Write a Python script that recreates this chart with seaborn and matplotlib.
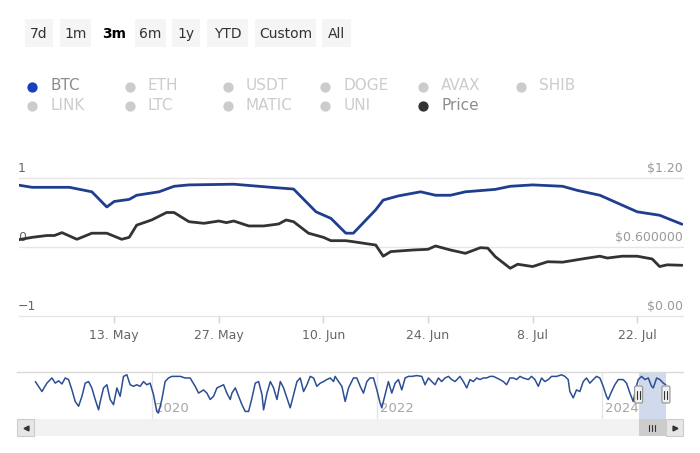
import numpy as np
import pandas as pd
import matplotlib
matplotlib.use("Agg")
import matplotlib.pyplot as plt
import matplotlib.dates as mdates
from matplotlib.patches import Rectangle, FancyBboxPatch
import seaborn as sns

# ---------------- data ----------------
RANGE_BUTTONS = ["7d", "1m", "3m", "6m", "1y", "YTD", "Custom", "All"]
SELECTED_BUTTON = "3m"
LEGEND_ITEMS = ["BTC", "ETH", "USDT", "DOGE", "AVAX", "SHIB",
                "LINK", "LTC", "MATIC", "UNI", "Price"]
ACTIVE_ITEMS = {"BTC": "#1a3fbd", "Price": "#333333"}

BTC_DATES = ["2024-04-30", "2024-05-02", "2024-05-07", "2024-05-10", "2024-05-12",
             "2024-05-13", "2024-05-15", "2024-05-16", "2024-05-19", "2024-05-21",
             "2024-05-23", "2024-05-29", "2024-06-03", "2024-06-06", "2024-06-09",
             "2024-06-11", "2024-06-13", "2024-06-14", "2024-06-17", "2024-06-18",
             "2024-06-20", "2024-06-23", "2024-06-25", "2024-06-27", "2024-06-29",
             "2024-07-03", "2024-07-05", "2024-07-08", "2024-07-12", "2024-07-14",
             "2024-07-17", "2024-07-22", "2024-07-25", "2024-07-28"]
BTC_CORR = [0.90, 0.865, 0.865, 0.80, 0.58,
            0.66, 0.69, 0.75, 0.80, 0.88,
            0.90, 0.91, 0.865, 0.84, 0.51,
            0.415, 0.20, 0.20, 0.54, 0.68,
            0.74, 0.80, 0.75, 0.75, 0.80,
            0.835, 0.88, 0.90, 0.88, 0.82,
            0.75, 0.51, 0.46, 0.33]

PRICE_DATES = ["2024-04-30", "2024-05-02", "2024-05-04", "2024-05-05", "2024-05-06",
               "2024-05-08", "2024-05-10", "2024-05-12", "2024-05-14", "2024-05-15",
               "2024-05-16", "2024-05-18", "2024-05-20", "2024-05-21", "2024-05-23",
               "2024-05-25", "2024-05-27", "2024-05-28", "2024-05-29", "2024-05-31",
               "2024-06-02", "2024-06-04", "2024-06-05", "2024-06-06", "2024-06-08",
               "2024-06-10", "2024-06-11", "2024-06-13", "2024-06-14", "2024-06-17",
               "2024-06-18", "2024-06-19", "2024-06-22", "2024-06-24", "2024-06-25",
               "2024-06-27", "2024-06-29", "2024-07-01", "2024-07-02", "2024-07-03",
               "2024-07-05", "2024-07-06", "2024-07-08", "2024-07-10", "2024-07-12",
               "2024-07-15", "2024-07-17", "2024-07-18", "2024-07-20", "2024-07-22",
               "2024-07-24", "2024-07-25", "2024-07-26", "2024-07-28"]
PRICE_USD = [0.661, 0.684, 0.700, 0.700, 0.725,
             0.667, 0.720, 0.720, 0.667, 0.684,
             0.790, 0.835, 0.900, 0.900, 0.820,
             0.806, 0.826, 0.812, 0.826, 0.783,
             0.783, 0.800, 0.835, 0.820, 0.720,
             0.684, 0.655, 0.655, 0.646, 0.617,
             0.520, 0.560, 0.574, 0.580, 0.609,
             0.574, 0.545, 0.594, 0.590, 0.516,
             0.415, 0.450, 0.430, 0.472, 0.468,
             0.500, 0.520, 0.504, 0.520, 0.520,
             0.496, 0.430, 0.445, 0.441]

X_TICKS = ["2024-05-13", "2024-05-27", "2024-06-10", "2024-06-24", "2024-07-08", "2024-07-22"]
X_TICK_LABELS = ["13. May", "27. May", "10. Jun", "24. Jun", "8. Jul", "22. Jul"]
LEFT_TICKS = [-1, 0, 1]
LEFT_TICK_LABELS = ["\u22121", "0", "1"]
RIGHT_TICKS = [0.0, 0.6, 1.2]
RIGHT_TICK_LABELS = ["$0.00", "$0.600000", "$1.20"]
VIEW_START = "2024-04-30 06:00"
VIEW_END = "2024-07-28 03:00"

# navigator (full history, decimal years)
NAV_YEARS = [
    2018.963, 2019.022, 2019.066, 2019.111, 2019.141, 2019.170, 2019.200, 2019.229, 2019.259, 2019.289,
    2019.318, 2019.348, 2019.378, 2019.407, 2019.437, 2019.466, 2019.496, 2019.526, 2019.541, 2019.570,
    2019.600, 2019.629, 2019.659, 2019.689, 2019.718, 2019.748, 2019.778, 2019.807, 2019.837, 2019.866,
    2019.896, 2019.926, 2019.955, 2019.985, 2020.015, 2020.044, 2020.059, 2020.089, 2020.118, 2020.148,
    2020.178, 2020.207, 2020.237,
    2020.252, 2020.296, 2020.340, 2020.385, 2020.415, 2020.459, 2020.489, 2020.518, 2020.548, 2020.578,
    2020.607, 2020.637, 2020.666, 2020.696, 2020.711, 2020.741, 2020.770, 2020.800, 2020.829, 2020.859,
    2020.889, 2020.918, 2020.948, 2020.978, 2020.992, 2021.022, 2021.052, 2021.081, 2021.111, 2021.141,
    2021.170, 2021.200, 2021.229, 2021.259, 2021.289, 2021.318, 2021.348, 2021.378, 2021.407, 2021.437,
    2021.466, 2021.496, 2021.526, 2021.555, 2021.585, 2021.615, 2021.629, 2021.659, 2021.689, 2021.718,
    2021.748, 2021.792, 2021.822, 2021.852, 2021.881, 2021.911, 2021.940, 2021.970, 2022.000, 2022.029,
    2022.044, 2022.074, 2022.103, 2022.133, 2022.163, 2022.192, 2022.222, 2022.252, 2022.281, 2022.311,
    2022.355, 2022.400, 2022.429, 2022.459, 2022.489, 2022.518, 2022.548, 2022.577, 2022.607, 2022.637,
    2022.666, 2022.696, 2022.740, 2022.770, 2022.800, 2022.829, 2022.859, 2022.889, 2022.918, 2022.948,
    2022.977, 2023.007, 2023.037, 2023.066, 2023.096, 2023.126, 2023.155,
    2023.185, 2023.215, 2023.244, 2023.274, 2023.303, 2023.348, 2023.377, 2023.407, 2023.437, 2023.466,
    2023.496, 2023.526, 2023.555, 2023.600, 2023.644, 2023.674, 2023.703, 2023.718, 2023.748, 2023.777,
    2023.807, 2023.837, 2023.866, 2023.896, 2023.926, 2023.955, 2023.985, 2024.015, 2024.044, 2024.059,
    2024.089, 2024.118, 2024.148, 2024.192, 2024.222, 2024.252, 2024.281, 2024.305, 2024.326, 2024.355,
    2024.385, 2024.415, 2024.444, 2024.459, 2024.489, 2024.518, 2024.548, 2024.570]
NAV_BTC_CORR = [
    0.83, 0.58, 0.79, 0.92, 0.79, 0.85, 0.77, 0.92, 0.88, 0.62,
    0.33, 0.21, 0.46, 0.79, 0.83, 0.67, 0.38, 0.12, 0.33, 0.67,
    0.75, 0.38, 0.25, 0.67, 0.46, 0.96, 1.00, 0.75, 0.71, 0.75,
    0.71, 0.83, 0.75, 0.79, 0.50, 0.08, 0.04, 0.38, 0.83, 0.92,
    0.96, 0.96, 0.96,
    0.96, 0.92, 0.92, 0.71, 0.54, 0.62, 0.54, 0.38, 0.46, 0.67,
    0.71, 0.75, 0.54, 0.38, 0.54, 0.67, 0.46, 0.25, 0.08, 0.08,
    0.42, 0.79, 0.83, 0.50, 0.12, 0.54, 0.83, 0.67, 0.38, 0.83,
    0.67, 0.42, 0.17, 0.50, 0.83, 0.92, 0.58, 0.75, 0.96, 0.92,
    0.71, 0.79, 0.83, 0.88, 0.92, 0.83, 0.96, 0.83, 0.71, 0.33,
    0.67, 0.92, 0.92, 0.71, 0.54, 0.83, 0.92, 0.92, 0.62, 0.29,
    0.17, 0.50, 0.83, 0.54, 0.79, 0.88, 0.62, 0.92, 0.96, 0.96,
    0.98, 0.96, 0.75, 0.92, 0.83, 0.75, 0.92, 0.83, 0.92, 0.96,
    0.88, 0.83, 0.96, 0.83, 0.67, 0.88, 0.83, 0.92, 0.88, 0.92,
    0.92, 0.96, 0.96, 0.92, 0.88, 0.83, 0.75,
    0.92, 0.92, 0.88, 0.96, 0.92, 0.88, 0.96, 0.88, 0.71, 0.92,
    0.83, 0.88, 0.96, 0.96, 1.00, 0.96, 0.88, 0.58, 0.42, 0.62,
    0.58, 0.83, 0.92, 0.79, 0.88, 0.96, 0.92, 0.71, 0.46, 0.38,
    0.58, 0.75, 0.88, 0.88, 0.79, 0.54, 0.33, 0.67, 0.88, 0.96,
    0.88, 0.92, 0.71, 0.67, 0.92, 0.88, 0.79, 0.75]
NAV_YEAR_TICKS = [2020, 2022, 2024]
NAV_START = 2018.80
NAV_END = 2024.723

# ---------------- style ----------------
sns.set_theme(style="white")
plt.rcParams["font.family"] = ["DejaVu Sans"]

BTC_LINE = "#1f3f8e"
PRICE_LINE = "#333333"
NAV_LINE = "#2c4f94"
GRID = "#e6e6e6"

W, H = 700, 453
fig = plt.figure(figsize=(W / 100, H / 100), dpi=100)
fig.patch.set_facecolor("white")


def fbox(x0, y0, x1, y1):
    return [x0 / W, 1 - y1 / H, (x1 - x0) / W, (y1 - y0) / H]


def dec_year_to_ts(y):
    yi = int(np.floor(y))
    s = pd.Timestamp(f"{yi}-01-01")
    e = pd.Timestamp(f"{yi + 1}-01-01")
    return s + (e - s) * (y - yi)


# ---------------- main chart ----------------
ax = fig.add_axes(fbox(19, 178, 683, 316))
ax.set_facecolor("none")
for v in LEFT_TICKS:
    ax.axhline(v, color=GRID, lw=1, zorder=0, clip_on=False)
sns.lineplot(x=pd.to_datetime(BTC_DATES), y=BTC_CORR, ax=ax, color=BTC_LINE,
             linewidth=2, zorder=3)
ax.set_ylim(-1, 1)
ax.set_xlim(pd.Timestamp(VIEW_START), pd.Timestamp(VIEW_END))
ax.set_xticks(pd.to_datetime(X_TICKS))
ax.set_xticklabels(X_TICK_LABELS)
ax.tick_params(axis="x", length=5, width=1, color="#ccd6eb", pad=4,
               labelsize=9, labelcolor="#666666", bottom=True)
ax.tick_params(axis="y", left=False, labelleft=False)
ax.set_yticks([])
for s in ax.spines.values():
    s.set_visible(False)
ax.set_xlabel("")
ax.set_ylabel("")
for v, lab in zip(LEFT_TICKS, LEFT_TICK_LABELS):
    ax.annotate(lab, xy=(0, v), xycoords=("axes fraction", "data"), xytext=(-0.7, 2.3),
                textcoords="offset points", ha="left", va="bottom", color="#666666",
                fontsize=9, annotation_clip=False)

ax2 = ax.twinx()
sns.lineplot(x=pd.to_datetime(PRICE_DATES), y=PRICE_USD, ax=ax2, color=PRICE_LINE,
             linewidth=2, zorder=3)
ax2.set_ylim(0, 1.2)
ax2.set_xlim(pd.Timestamp(VIEW_START), pd.Timestamp(VIEW_END))
ax2.set_yticks([])
ax2.set_ylabel("")
for s in ax2.spines.values():
    s.set_visible(False)
for v, lab in zip(RIGHT_TICKS, RIGHT_TICK_LABELS):
    ax2.annotate(lab, xy=(1, v), xycoords=("axes fraction", "data"), xytext=(0, 2.3),
                 textcoords="offset points", ha="right", va="bottom", color="#999999",
                 fontsize=9, annotation_clip=False)

# ---------------- navigator ----------------
nav = fig.add_axes(fbox(17, 372, 683, 419))
nav.set_facecolor("none")
nav_x = [dec_year_to_ts(y) for y in NAV_YEARS]
sns.lineplot(x=nav_x, y=NAV_BTC_CORR, ax=nav, color=NAV_LINE, linewidth=1.1, zorder=3)
nav.set_xlim(dec_year_to_ts(NAV_START), dec_year_to_ts(NAV_END))
nav.set_ylim(-0.11, 1.07)
nav.set_xticks([])
nav.set_yticks([])
nav.set_xlabel("")
nav.set_ylabel("")
for k, s in nav.spines.items():
    s.set_visible(k == "top")
nav.spines["top"].set_color("#d9d9d9")
nav.spines["top"].set_linewidth(1)
for yr in NAV_YEAR_TICKS:
    t = pd.Timestamp(f"{yr}-01-01")
    nav.axvline(t, color=GRID, lw=1, zorder=0)
    nav.annotate(str(yr), xy=(t, 0), xycoords=("data", "axes fraction"), xytext=(2.6, 2.8),
                 textcoords="offset points", ha="left", va="bottom", color="#a6a6a6",
                 fontsize=9.5, zorder=1)
vs, ve = pd.Timestamp(VIEW_START), pd.Timestamp(VIEW_END)
nav.axvspan(vs, ve, color="#6685c2", alpha=0.3, lw=0, zorder=2)

hx0 = nav.transData.transform((mdates.date2num(vs), 0))[0]
hx1 = nav.transData.transform((mdates.date2num(ve), 0))[0]

# ---------------- overlay (UI chrome) ----------------
ov = fig.add_axes([0, 0, 1, 1])
ov.set_xlim(0, W)
ov.set_ylim(H, 0)
ov.axis("off")

# range selector buttons
btn_boxes = [(25, 53), (60, 91), (98, 131), (135, 166), (172, 200), (207, 248), (255, 316), (322, 351)]
for lab, (bx0, bx1) in zip(RANGE_BUTTONS, btn_boxes):
    sel = lab == SELECTED_BUTTON
    if not sel:
        ov.add_patch(Rectangle((bx0, 19), bx1 - bx0, 28, facecolor="#f5f5f5", edgecolor="none"))
    ov.text((bx0 + bx1) / 2, 34, lab, ha="center", va="center", fontsize=10,
            color="#000000" if sel else "#333333", fontweight="bold" if sel else "normal")

# legend
for i, name in enumerate(LEGEND_ITEMS):
    row, col = divmod(i, 6)
    mx = 32 + col * 97.8
    my = 87 + row * 19
    active = name in ACTIVE_ITEMS
    ov.plot([mx], [my], marker="o", markersize=7.4, linestyle="none",
            color=ACTIVE_ITEMS.get(name, "#cccccc"), markeredgewidth=0)
    ov.text(mx + 18, my - 1, name, ha="left", va="center", fontsize=11,
            color="#8c8c8c" if active else "#cccccc")

# navigator handles
for hx in (hx0, hx1):
    ov.add_patch(FancyBboxPatch((hx - 4, 386), 8, 17, boxstyle="round,pad=0,rounding_size=1.5",
                                facecolor="#f2f2f2", edgecolor="#999999", lw=0.9))
    for dx in (-1.5, 1.5):
        ov.plot([hx + dx, hx + dx], [390.5, 398.5], color="#333333", lw=0.8)

# scrollbar
ov.add_patch(Rectangle((17, 419), 666, 17, facecolor="#f2f2f2", edgecolor="none"))
ov.add_patch(Rectangle((hx0, 419), hx1 - hx0, 17, facecolor="#cccccc", edgecolor="none"))
for dx in (-3, 0, 3):
    cx = (hx0 + hx1) / 2
    ov.plot([cx + dx, cx + dx], [424.5, 430.5], color="#333333", lw=0.8)
ov.add_patch(Rectangle((17, 419), 17, 17, facecolor="#e6e6e6", edgecolor="#cccccc", lw=0.8))
ov.add_patch(Rectangle((666, 419), 17, 17, facecolor="#e6e6e6", edgecolor="#cccccc", lw=0.8))
ov.plot([25.5], [427.5], marker="<", markersize=3.5, color="#333333", linestyle="none")
ov.plot([674.5], [427.5], marker=">", markersize=3.5, color="#333333", linestyle="none")

fig.savefig("out.png", dpi=100)
